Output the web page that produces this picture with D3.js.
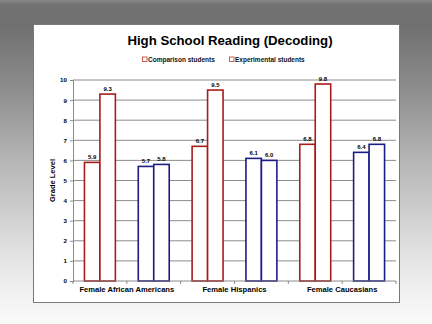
<!DOCTYPE html>
<html><head><meta charset="utf-8">
<script src="https://cdn.jsdelivr.net/npm/d3@7"></script>
<style>html,body{margin:0;padding:0;overflow:hidden;}svg{display:block;font-family:"Liberation Sans",Arial,sans-serif;}</style>
</head><body>
<svg id="c" width="432" height="324"></svg>
<script>
const title = "High School Reading (Decoding)";
const groups = ["Female African Americans", "Female Hispanics", "Female Caucasians"];
const categories = ["FAA-1", "FAA-2", "FH-1", "FH-2", "FC-1", "FC-2"];
const seriesNames = ["Comparison students", "Experimental students"];
const comparison = [5.9, 5.7, 6.7, 6.1, 6.8, 6.4];
const experimental = [9.3, 5.8, 9.5, 6.0, 9.8, 6.8];
const categoryColors = ["#a81c1c", "#1c1c84", "#a81c1c", "#1c1c84", "#a81c1c", "#1c1c84"];
const yTicks = [0, 1, 2, 3, 4, 5, 6, 7, 8, 9, 10];
const yLabel = "Grade Level";

const svg = d3.select("#c");
const defs = svg.append("defs");
const grad = defs.append("linearGradient").attr("id", "bg").attr("x1", 0).attr("y1", 0).attr("x2", 0).attr("y2", 1);
[[0, "#868686"], [0.015, "#727272"], [0.08, "#707070"], [0.27, "#8c8c8c"], [0.5, "#b6b6b6"],
 [0.78, "#e2e2e2"], [0.92, "#f3f3f3"], [1, "#fafafa"]].forEach(([o, c]) =>
  grad.append("stop").attr("offset", o).attr("stop-color", c));
svg.append("rect").attr("width", 432).attr("height", 324).attr("fill", "url(#bg)");

// slide panel
svg.append("rect").attr("x", 33.5).attr("y", 24.5).attr("width", 366).attr("height", 278)
  .attr("fill", "#fff").attr("stroke", "#7a7a7a").attr("stroke-width", 1);

svg.append("text").attr("x", 230).attr("y", 45).attr("text-anchor", "middle")
  .attr("font-size", 13.2).attr("font-weight", "bold").attr("fill", "#000").text(title);

// legend
const legX = [142, 229];
seriesNames.forEach((s, i) => {
  const g = svg.append("g").attr("transform", `translate(${legX[i]},61)`);
  g.append("rect").attr("x", 0.5).attr("y", -4).attr("width", 4.5).attr("height", 4.5)
    .attr("fill", "#fff").attr("stroke", "#c0392b").attr("stroke-width", 0.8);
  g.append("text").attr("x", 6).attr("y", 1).attr("font-size", 6.5).attr("font-weight", "bold")
    .attr("fill", "#111").text(s);
});

const pLeft = 73, pRight = 396, pTop = 80, pBottom = 281;
const y = d3.scaleLinear().domain([0, 10]).range([pBottom, pTop]);
const x = d3.scaleBand().domain(categories).range([pLeft, pRight]).padding(0);
const x1 = d3.scaleBand().domain([0, 1]).range([0, x.bandwidth()]).paddingInner(0).paddingOuter(0.74);

// grid
svg.append("g").selectAll("line").data(yTicks.filter(t => t > 0)).join("line")
  .attr("x1", pLeft).attr("x2", pRight).attr("y1", d => y(d)).attr("y2", d => y(d))
  .attr("stroke", "#808080").attr("stroke-width", 0.9);

// y axis
const ya = svg.append("g").attr("transform", `translate(${pLeft},0)`)
  .call(d3.axisLeft(y).tickValues(yTicks).tickSize(3).tickPadding(3).tickFormat(d3.format("d")));
ya.select(".domain").attr("stroke", "#808080").attr("stroke-width", 0.9);
ya.selectAll(".tick line").attr("stroke", "#808080").attr("stroke-width", 0.9);
ya.selectAll(".tick text").attr("font-size", 6.2).attr("font-weight", "bold").attr("fill", "#000")
  .attr("font-family", "Liberation Sans, Arial, sans-serif");

svg.append("text").attr("transform", `translate(54.5,${(pTop + pBottom) / 2}) rotate(-90)`)
  .attr("text-anchor", "middle").attr("font-size", 7.5).attr("font-weight", "bold").text(yLabel);

// bars
const data = [];
categories.forEach((c, i) => {
  [comparison[i], experimental[i]].forEach((v, j) => data.push({ c, j, v, color: categoryColors[i] }));
});
svg.append("g").selectAll("rect").data(data).join("rect")
  .attr("x", d => x(d.c) + x1(d.j))
  .attr("y", d => y(d.v))
  .attr("width", x1.bandwidth())
  .attr("height", d => y(0) - y(d.v))
  .attr("fill", "#fff").attr("stroke", d => d.color).attr("stroke-width", 1.6);

svg.append("g").selectAll("text").data(data).join("text")
  .attr("x", d => x(d.c) + x1(d.j) + x1.bandwidth() / 2)
  .attr("y", d => y(d.v) - 3)
  .attr("text-anchor", "middle").attr("font-size", 6).attr("font-weight", "bold").attr("fill", "#000")
  .text(d => d3.format(".1f")(d.v));

// x axis
svg.append("line").attr("x1", pLeft).attr("x2", pRight).attr("y1", pBottom).attr("y2", pBottom)
  .attr("stroke", "#808080").attr("stroke-width", 0.9);
const boundaries = categories.map(c => x(c)).concat([pRight]);
svg.append("g").selectAll("line").data(boundaries).join("line")
  .attr("x1", d => d).attr("x2", d => d).attr("y1", pBottom).attr("y2", pBottom + 3)
  .attr("stroke", "#808080").attr("stroke-width", 0.9);
svg.append("g").selectAll("text").data(groups).join("text")
  .attr("x", (d, i) => x(categories[2 * i + 1]))
  .attr("y", 291.5).attr("text-anchor", "middle").attr("font-size", 7.6).attr("font-weight", "bold")
  .attr("fill", "#000").text(d => d);
</script>
</body></html>
